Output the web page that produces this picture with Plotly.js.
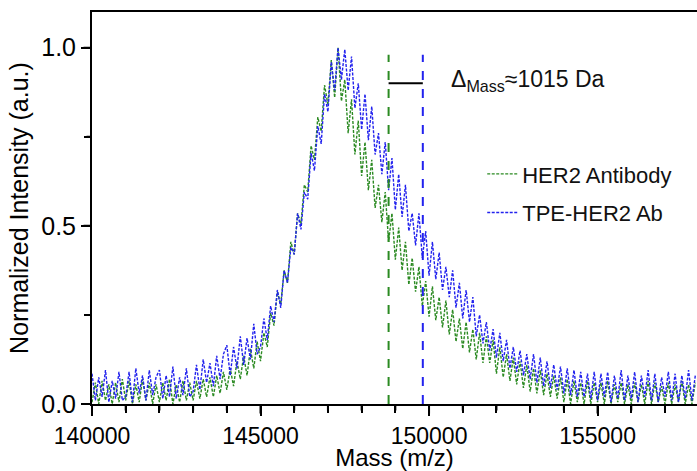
<!DOCTYPE html>
<html>
<head>
<meta charset="utf-8">
<script src="https://cdn.plot.ly/plotly-3.0.1.min.js"></script>
<style>html,body{margin:0;padding:0;background:#fff;}#chart{width:697px;height:471px;}</style>
</head>
<body>
<div id="chart"></div>
<script>
// Mass grid: 140000 Da in 100 Da steps
const massStart = 140000;
const massStep = 100;

const seriesNames = ["HER2 Antibody", "TPE-HER2 Ab"];

const her2Antibody = [
  0.005,0.06,0.0,0.065,0.01,0.055,0.0,0.06,0.005,0.07,
  0.01,0.065,0.0,0.055,0.005,0.07,0.01,0.06,0.0,0.055,
  0.005,0.06,0.01,0.07,0.0,0.055,0.005,0.065,0.01,0.06,
  0.01,0.065,0.015,0.07,0.02,0.075,0.02,0.08,0.03,0.09,
  0.04,0.1,0.05,0.12,0.07,0.135,0.08,0.155,0.1,0.175,
  0.12,0.2,0.16,0.255,0.22,0.315,0.28,0.375,0.34,0.455,
  0.42,0.535,0.505,0.615,0.595,0.725,0.685,0.805,0.765,0.895,
  0.84,0.965,0.86,1.0,0.85,0.91,0.76,0.855,0.7,0.795,
  0.64,0.735,0.6,0.685,0.55,0.615,0.51,0.595,0.455,0.535,
  0.405,0.495,0.375,0.455,0.335,0.41,0.315,0.385,0.275,0.345,
  0.245,0.33,0.235,0.3,0.215,0.29,0.195,0.265,0.175,0.24,
  0.155,0.23,0.145,0.21,0.125,0.2,0.115,0.19,0.115,0.18,
  0.085,0.16,0.075,0.14,0.065,0.13,0.055,0.12,0.045,0.11,
  0.035,0.1,0.03,0.095,0.025,0.085,0.02,0.08,0.015,0.075,
  0.005,0.07,0.0,0.065,0.005,0.06,0.0,0.065,0.0,0.06,
  0.005,0.06,0.0,0.065,0.0,0.055,0.005,0.06,0.0,0.055,
  0.0,0.06,0.005,0.055,0.0,0.065,0.0,0.06,0.005,0.05,
  0.0,0.06,0.0,0.055,0.005,0.065,0.0,0.055,0.0,0.06
];

const tpeHer2Ab = [
  0.085,0.01,0.075,0.02,0.095,0.005,0.065,0.015,0.09,0.01,
  0.02,0.09,0.005,0.1,0.03,0.08,0.01,0.095,0.025,0.075,
  0.095,0.015,0.08,0.02,0.105,0.015,0.075,0.025,0.1,0.02,
  0.035,0.11,0.04,0.125,0.06,0.115,0.05,0.135,0.07,0.14,
  0.165,0.08,0.16,0.1,0.19,0.11,0.185,0.125,0.225,0.14,
  0.16,0.24,0.18,0.275,0.23,0.32,0.27,0.375,0.34,0.44,
  0.42,0.535,0.49,0.595,0.575,0.705,0.655,0.78,0.73,0.87,
  0.82,0.96,0.88,1.0,0.91,0.995,0.88,0.975,0.83,0.9,
  0.77,0.87,0.74,0.835,0.7,0.76,0.645,0.735,0.6,0.69,
  0.545,0.645,0.525,0.615,0.485,0.535,0.445,0.535,0.41,0.485,
  0.36,0.455,0.35,0.425,0.32,0.385,0.3,0.375,0.27,0.34,
  0.24,0.32,0.23,0.3,0.19,0.25,0.17,0.23,0.15,0.21,
  0.13,0.2,0.12,0.18,0.1,0.16,0.09,0.15,0.08,0.14,
  0.07,0.14,0.06,0.13,0.05,0.12,0.045,0.11,0.04,0.105,
  0.03,0.1,0.025,0.095,0.02,0.09,0.02,0.085,0.015,0.09,
  0.01,0.085,0.02,0.09,0.005,0.08,0.015,0.095,0.01,0.08,
  0.015,0.09,0.005,0.08,0.02,0.095,0.01,0.085,0.005,0.075,
  0.02,0.09,0.01,0.085,0.005,0.08,0.015,0.095,0.01,0.08
];

// Marker masses (dashed vertical lines) and their level
const markerMasses = [148800, 149815];
const markerTop = 0.98;
const bracketLevel = 0.9;
const annotationText = "\u0394<sub>Mass</sub>\u22481015 Da";

const xRange = [140000, 157950];
const yRange = [0, 1.1];
const xMinorStep = 1000, xMajorStep = 5000;
const yMinorStep = 0.25, yMajorStep = 0.5;

const colors = ["#2b8a22", "#2222ee"];

const mass = her2Antibody.map((_, i) => massStart + i * massStep);

const traces = [her2Antibody, tpeHer2Ab].map((ys, k) => ({
  x: mass, y: ys, type: "scatter", mode: "lines", name: seriesNames[k],
  legendgroup: "g" + k,
  line: {color: colors[k], width: 1.4, dash: "3px,1.5px"},
  hoverinfo: "skip"
}));

const shapes = markerMasses.map((m, k) => ({
  type: "line", xref: "x", yref: "y", x0: m, x1: m, y0: 0, y1: markerTop,
  line: {color: colors[k], width: 2, dash: "dash"}
}));
shapes.push({type: "line", xref: "x", yref: "y", x0: markerMasses[0], x1: markerMasses[1],
  y0: bracketLevel, y1: bracketLevel, line: {color: "#000", width: 2}});

const font = "Arial, Liberation Sans, sans-serif";

const annotations = [{xref: "paper", yref: "paper", x: 0.59, y: 0.825, xanchor: "left", yanchor: "middle",
  text: annotationText, showarrow: false, font: {family: font, size: 23, color: "#111"}}];

// Axis tick marks drawn as short arrow-less annotation lines outside the axes
for (let v = xRange[0]; v <= xRange[1]; v += xMinorStep) {
  const major = (v - xRange[0]) % xMajorStep === 0;
  annotations.push({xref: "x", yref: "paper", x: v, y: 0, text: "", showarrow: true,
    arrowhead: 0, arrowwidth: 2, arrowcolor: "#000", ax: 0, ay: major ? 11 : 8,
    standoff: 0, startstandoff: 0});
}
for (let i = 0; i * yMinorStep <= yRange[1]; i++) {
  const v = i * yMinorStep;
  const major = Math.abs(v / yMajorStep - Math.round(v / yMajorStep)) < 1e-9;
  annotations.push({xref: "paper", yref: "y", x: 0, y: v, text: "", showarrow: true,
    arrowhead: 0, arrowwidth: 2, arrowcolor: "#000", ax: major ? -10 : -7, ay: 0,
    standoff: 0, startstandoff: 0});
}

const layout = {
  width: 697, height: 471,
  margin: {l: 92, r: 0, t: 12, b: 67},
  font: {family: font, color: "#000", size: 22},
  showlegend: true,
  legend: {x: 0.645, y: 0.64, xanchor: "left", yanchor: "top",
    font: {family: font, size: 22, color: "#111"}, tracegroupgap: 7},
  xaxis: {
    range: xRange, tickmode: "linear", tick0: 140000, dtick: xMajorStep, tickformat: "d",
    ticks: "outside", ticklen: 10, tickwidth: 2, tickcolor: "#000",
    minor: {dtick: xMinorStep, ticks: "outside", ticklen: 7, tickwidth: 2, tickcolor: "#000"},
    showline: true, linewidth: 2, linecolor: "#000", mirror: true, showgrid: false, zeroline: false,
    tickfont: {size: 23},
    title: {text: "Mass (m/z)", font: {size: 24}, standoff: 0}
  },
  yaxis: {
    range: yRange, tickmode: "linear", tick0: 0, dtick: yMajorStep, tickformat: ".1f",
    ticks: "outside", ticklen: 9, tickwidth: 2, tickcolor: "#000",
    minor: {dtick: yMinorStep, ticks: "outside", ticklen: 6, tickwidth: 2, tickcolor: "#000"},
    showline: true, linewidth: 2, linecolor: "#000", showgrid: false, zeroline: false,
    tickfont: {size: 25},
    title: {text: "Normalized Intensity (a.u.)", font: {size: 25}, standoff: 5}
  },
  shapes: shapes,
  annotations: annotations
};

Plotly.newPlot("chart", traces, layout, {staticPlot: true});
</script>
</body>
</html>
